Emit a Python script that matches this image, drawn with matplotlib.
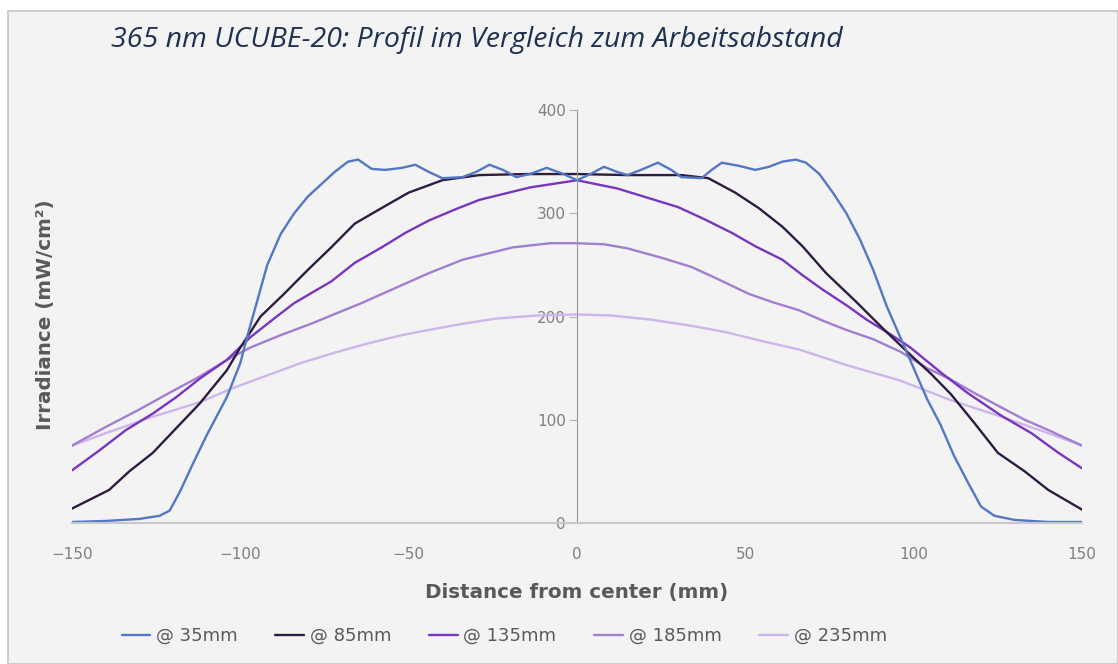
import matplotlib.pyplot as plt
from matplotlib.patches import Rectangle

# distance from center (mm) and irradiance (mW/cm²) per working distance
x_35 = [-150, -140, -130, -124, -121, -118, -114, -110, -104, -100, -98, -95, -92, -88, -84, -80, -76, -72, -68, -65,
        -61, -57, -52, -48, -44, -40, -34, -30, -26, -22, -18, -14, -9, -4, 0, 4, 8, 12, 15, 19, 24, 28, 31, 37, 40,
        43, 48, 53, 57, 61, 65, 68, 72, 76, 80, 84, 88, 92, 96, 100, 104, 108, 112, 116, 120, 124, 130, 140, 150]
y_35 = [1, 2, 4, 7, 12, 30, 58, 85, 122, 155, 180, 215, 250, 280, 300, 316, 328, 340, 350, 352,
        343, 342, 344, 347, 340, 334, 335, 340, 347, 342, 335, 338, 344, 338, 332, 338, 345, 340, 337, 342, 349, 342, 335, 334, 342,
        349, 346, 342, 345, 350, 352, 349, 338, 320, 300, 275, 245, 210, 180, 150, 120, 95, 65, 40, 16, 7, 3, 1, 1]

x_85 = [-150, -139, -133, -126, -119, -112, -104, -100, -94, -87, -80, -73, -66, -57, -50, -40, -29, -15, 0, 15, 31, 39,
        47, 54, 61, 67, 74, 83, 91, 99, 105, 111, 118, 125, 133, 140, 150]
y_85 = [14, 32, 50, 68, 92, 116, 148, 170, 200, 222, 245, 267, 290, 307, 320, 332, 337, 338, 338, 337, 337, 334,
        320, 305, 287, 268, 242, 214, 188, 163, 145, 125, 97, 68, 50, 32, 13]

x_135 = [-150, -142, -134, -126, -119, -112, -104, -97, -90, -84, -73, -66, -58, -51, -44, -36, -29, -14, 0, 12, 20, 30,
         38, 46, 53, 61, 67, 73, 80, 86, 93, 99, 108, 116, 126, 135, 143, 150]
y_135 = [51, 70, 90, 106, 122, 140, 158, 180, 198, 213, 234, 252, 267, 281, 293, 304, 313, 325, 332, 324, 316, 306,
         294, 281, 268, 255, 240, 226, 211, 197, 183, 170, 146, 126, 104, 87, 68, 53]

x_185 = [-150, -140, -130, -120, -112, -104, -97, -88, -79, -73, -64, -53, -44, -34, -19, -8, 0, 8, 15, 25, 34, 42,
         51, 58, 66, 73, 80, 88, 96, 104, 111, 118, 126, 133, 140, 150]
y_185 = [75, 93, 110, 128, 142, 158, 170, 182, 193, 201, 213, 229, 242, 255, 267, 271, 271, 270, 266, 257, 248, 236,
         222, 214, 206, 196, 187, 178, 166, 150, 139, 126, 112, 100, 90, 75]

x_235 = [-150, -140, -126, -112, -102, -92, -82, -72, -62, -52, -44, -34, -24, -12, 0, 10, 22, 34, 44, 54, 66, 80,
         96, 111, 126, 140, 150]
y_235 = [75, 87, 103, 117, 131, 143, 155, 165, 174, 182, 187, 193, 198, 201, 202, 201, 197, 191, 185, 177, 168, 153,
         138, 119, 103, 87, 75]

labels = ['@ 35mm', '@ 85mm', '@ 135mm', '@ 185mm', '@ 235mm']
colors = ['#5377c4', '#2e1c40', '#7a35c0', '#a27ed0', '#cdb6ea']

fig = plt.figure(figsize=(11.18, 6.64), dpi=100, facecolor='white')
fig.patches.append(Rectangle((0.007, 0), 0.993, 0.983, transform=fig.transFigure,
                             facecolor='#f3f3f3', edgecolor='#c4c4c4', lw=1.2, zorder=-1))

ax = fig.add_axes([0.0644, 0.2123, 0.9034, 0.622])
ax.set_facecolor('none')

series = [(x_35, y_35), (x_85, y_85), (x_135, y_135), (x_185, y_185), (x_235, y_235)]
for (xs, ys), lab, c in reversed(list(zip(series, labels, colors))):
    ax.plot(xs, ys, color=c, lw=1.7, label=lab, solid_capstyle='round')

ax.set_xlim(-150, 150)
ax.set_ylim(0, 400)
ax.set_xticks([-150, -100, -50, 0, 50, 100, 150])
ax.set_yticks([0, 100, 200, 300, 400])

for s in ['top', 'right']:
    ax.spines[s].set_visible(False)
ax.spines['left'].set_position(('data', 0))
ax.spines['left'].set_color('#9a9a9a')
ax.spines['bottom'].set_color('#c8c8c8')
ax.spines['bottom'].set_linewidth(1.5)

ax.tick_params(axis='x', length=0, pad=17, labelsize=11, labelcolor='#7f7f7f')
ax.tick_params(axis='y', length=6, color='#b0b0b0', pad=2, labelsize=11, labelcolor='#7f7f7f')

fig.text(0.099, 0.94, '365 nm UCUBE-20: Profil im Vergleich zum Arbeitsabstand', style='italic',
         fontsize=20.5, color='#1f3150', family='Open Sans', va='center', ha='left')
fig.text(0.516, 0.107, 'Distance from center (mm)', fontsize=14.3, fontweight='bold', color='#595959',
         family='DejaVu Sans', ha='center', va='center')
fig.text(0.041, 0.526, 'Irradiance (mW/cm²)', fontsize=14.3, fontweight='bold', color='#595959',
         family='DejaVu Sans', ha='center', va='center', rotation=90)

handles, labs = ax.get_legend_handles_labels()
fig.legend(handles[::-1], labs[::-1], loc='center', bbox_to_anchor=(0.451, 0.042), ncol=5, frameon=False,
           fontsize=13, handlelength=1.6, columnspacing=2.1, labelcolor='#595959', handletextpad=0.3)

fig.savefig('out.png', dpi=100, facecolor=fig.get_facecolor())
